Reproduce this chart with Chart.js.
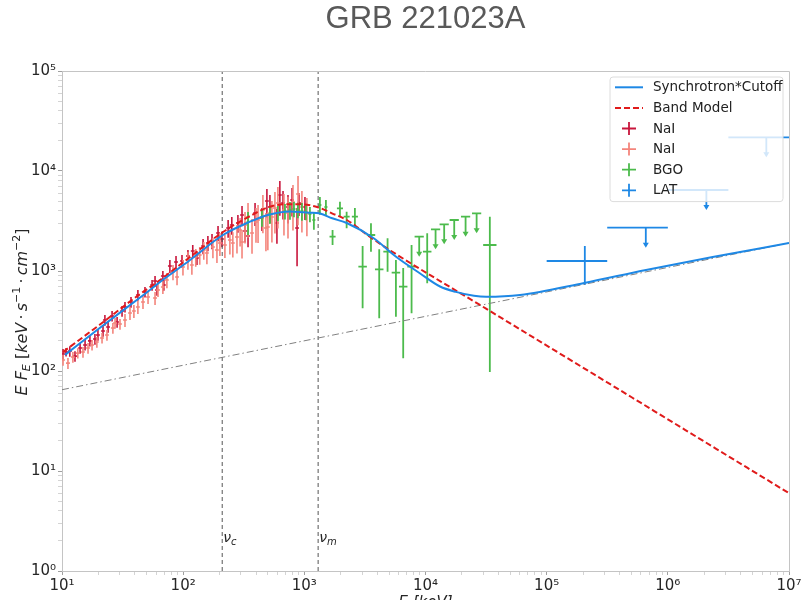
<!DOCTYPE html>
<html>
<head>
<meta charset="utf-8">
<title>GRB 221023A</title>
<script src="https://cdn.jsdelivr.net/npm/chart.js@4.4.1/dist/chart.umd.min.js"></script>
<style>
    html, body { margin: 0; padding: 0; background: #fff; overflow: hidden; }
    #sed { display: block; }
</style>
</head>
<body>
<canvas id="sed" width="809" height="612"></canvas>
<script>
// Energy in keV, E*F_E in keV s^-1 cm^-2

// GBM NaI, first detector
const nai1E = [10.2, 10.8, 11.6, 12.8, 14.1, 15.5, 17.0, 18.7, 19.8, 21.8,
    22.6, 24.0, 25.9, 28.5, 31.3, 33.1, 37.1, 42.3, 48.4, 55.4,
    58.6, 60.8, 68.0, 69.3, 77.7, 87.3, 97.8, 109.5, 120, 130,
    146, 160, 173, 194, 209, 235, 252, 283, 306, 324,
    343, 392, 447, 491, 520, 594, 628, 667, 733, 792,
    871, 903, 1012];
const nai1Flux = [148, 155, 158, 141, 170, 182, 200, 209, 229, 251,
    324, 275, 355, 309, 398, 437, 490, 575, 617, 724,
    794, 646, 891, 724, 1122, 1230, 1259, 1413, 1585, 1349,
    1778, 1905, 1995, 2399, 2089, 2692, 2884, 3020, 3631, 2512,
    2239, 3802, 3388, 5012, 4365, 3020, 5754, 4786, 4365, 5129,
    2692, 4786, 4365];
const nai1Err = [18, 15, 19, 17, 21, 22, 24, 26, 28, 31,
    40, 34, 43, 38, 49, 53, 60, 70, 75, 88,
    97, 79, 109, 88, 166, 182, 186, 209, 235, 200,
    311, 333, 349, 420, 366, 544, 583, 610, 835, 578,
    515, 985, 877, 1594, 1388, 1148, 2187, 1522, 1388, 1631,
    1575, 1240, 1131];

// GBM NaI, second detector
const nai2E = [10.2, 11.2, 12.3, 13.5, 14.9, 16.4, 17.7, 19.4, 21.4, 23.5,
    26.3, 27.4, 30.1, 33.1, 36.4, 39.2, 42.3, 46.6, 51.3, 58.6,
    62.0, 68.0, 73.4, 82.4, 89.0, 99.6, 109.5, 118, 127, 137,
    148, 157, 176, 190, 201, 221, 243, 257, 278, 295,
    306, 324, 343, 370, 399, 415, 455, 482, 500, 540,
    572, 605, 679, 733, 806, 887, 955, 1050];
const nai2Flux = [129, 120, 138, 151, 155, 170, 182, 195, 214, 229,
    269, 302, 295, 324, 380, 398, 437, 490, 550, 537,
    646, 692, 813, 977, 871, 1096, 1288, 1148, 1380, 1445,
    1622, 1514, 1738, 1622, 1905, 1820, 2042, 1905, 2188, 2570,
    1950, 2884, 3467, 2399, 3090, 3236, 4074, 2692, 2754, 3467,
    4266, 4786, 4074, 3802, 4898, 5888, 4365, 3802];
const nai2Err = [16, 15, 17, 18, 19, 21, 22, 24, 26, 28,
    33, 37, 36, 48, 56, 59, 65, 73, 81, 79,
    96, 102, 142, 171, 152, 192, 260, 232, 279, 292,
    328, 348, 400, 420, 493, 471, 576, 537, 696, 817,
    620, 998, 1317, 912, 1174, 1336, 1683, 1112, 1137, 1543,
    1898, 2130, 1813, 1692, 2353, 3027, 1942, 1570];
const naiBinDex = 0.016;

// GBM BGO
const bgoE = [343, 447, 520, 605, 692, 761, 821, 885, 955, 1030,
    1112, 1199, 1344, 1507, 1710, 1968, 2234, 2614, 3027, 3548,
    4150, 4864, 5700, 6546, 7674, 10330, 33960];
const bgoFlux = [3090, 3467, 3715, 3802, 3981, 4074, 4169, 4074, 3981, 3890,
    3715, 3236, 4571, 4365, 2203, 4236, 3491, 3491, 1104, 2291,
    1040, 1560, 962, 697, 1104, 1560, 1820];
const bgoLow = [2290, 2770, 2965, 3140, 3280, 3250, 3440, 3360, 3180, 3210,
    3065, 2590, 3650, 3605, 1820, 3491, 2673, 2692, 424, 1560,
    337, 984, 349, 134, 378, 753, 98];
const bgoHigh = [3890, 4170, 4465, 4470, 4680, 4890, 4900, 4780, 4780, 4570,
    4365, 3890, 5490, 5125, 2570, 4932, 3917, 4266, 1778, 2999,
    1648, 2123, 1288, 1072, 1820, 2382, 3491];
const bgoBinDex = [0.012, 0.012, 0.012, 0.012, 0.012, 0.012, 0.012, 0.012, 0.012, 0.012,
    0.012, 0.012, 0.012, 0.012, 0.025, 0.025, 0.025, 0.025, 0.035, 0.035,
    0.035, 0.035, 0.035, 0.035, 0.035, 0.035, 0.055];
const bgoUlE = [8872, 12110, 14260, 17260, 21420, 26420];
const bgoUlFlux = [2203, 2612, 2931, 3236, 3491, 3776];
const bgoUlBinDex = 0.038;

// LAT
const latE = [206500];
const latFlux = [1259];
const latLow = [724];
const latHigh = [1778];
const latEMin = [1e5];
const latEMax = [3.16e5];
const latUlE = [658000, 2080000, 6500000];
const latUlFlux = [2710, 6457, 21700];
const latUlEMin = [316000, 1000000, 3160000];
const latUlEMax = [1000000, 3160000, 10000000];

// fitted models
const synchE = [10.6, 20.6, 44.1, 70.8, 114, 213, 356, 501, 759, 1096,
    1349, 1698, 2239, 3715, 5754, 8913, 13180, 17800, 25100, 31620,
    60260, 204200, 660700, 2344000, 1e7];
const synchFlux = [145, 271, 543, 845, 1288, 2291, 3112, 3631, 3936, 3828,
    3758, 3365, 3020, 2138, 1380, 955, 700, 618, 565, 552,
    575, 759, 1023, 1380, 1905];
const bandE = [10.2, 20.6, 44.1, 61.9, 114, 213, 370, 501, 692, 955,
    1294, 1690, 2239, 3467, 4786, 31620, 316200, 1e7];
const bandFlux = [155, 292, 589, 782, 1380, 2455, 3631, 4335, 4645, 4645,
    4335, 3776, 3236, 2203, 1690, 420, 76.9, 6.0];
const powerLawE = [10, 1e7];
const powerLawFlux = [65, 1905];

// characteristic synchrotron frequencies (keV)
const breakNames = ['c', 'm'];
const breakE = [210, 1300];

const BLUE = '#1e88e5';
const RED = '#e01b1b';
const NAI_DARK = '#c8163c';
const NAI_LIGHT = '#f4857c';
const GREEN = '#4cbb4c';
const MATH_FONT = "'DejaVu Sans', sans-serif";

const ARROW_LEN = 20;

function curve(E, F) {
    return E.map((e, i) => ({ x: e, y: F[i] }));
}

function symmetricPoints(E, F, err, dex) {
    const k = Math.pow(10, dex);
    return E.map((e, i) => ({
        x: e, y: F[i], xMin: e / k, xMax: e * k,
        yMin: F[i] - err[i], yMax: F[i] + err[i]
    }));
}

function boundedPoints(E, F, low, high, dex) {
    return E.map((e, i) => {
        const k = Math.pow(10, dex[i]);
        return { x: e, y: F[i], xMin: e / k, xMax: e * k, yMin: low[i], yMax: high[i] };
    });
}

function upperLimits(E, F, eMin, eMax) {
    return E.map((e, i) => ({ x: e, y: F[i], xMin: eMin[i], xMax: eMax[i], upper: true }));
}

const bgoPoints = boundedPoints(bgoE, bgoFlux, bgoLow, bgoHigh, bgoBinDex).concat(
    upperLimits(bgoUlE, bgoUlFlux,
        bgoUlE.map(e => e / Math.pow(10, bgoUlBinDex)),
        bgoUlE.map(e => e * Math.pow(10, bgoUlBinDex))));

const latPoints = latE.map((e, i) => ({
    x: e, y: latFlux[i], xMin: latEMin[i], xMax: latEMax[i], yMin: latLow[i], yMax: latHigh[i]
})).concat(upperLimits(latUlE, latUlFlux, latUlEMin, latUlEMax));

const datasets = [
    {
        label: 'Synchrotron*Cutoff', data: curve(synchE, synchFlux), showLine: true,
        borderColor: BLUE, borderWidth: 2, pointRadius: 0,
        cubicInterpolationMode: 'monotone', order: 0, legendStyle: 'line'
    },
    {
        label: 'Band Model', data: curve(bandE, bandFlux), showLine: true,
        borderColor: RED, borderWidth: 2, borderDash: [6, 3], pointRadius: 0,
        cubicInterpolationMode: 'monotone', order: 1, legendStyle: 'line'
    },
    { label: 'NaI', data: symmetricPoints(nai1E, nai1Flux, nai1Err, naiBinDex), borderColor: NAI_DARK,
      pointRadius: 0, errorBars: true, barWidth: 1.6, legendStyle: 'cross', order: 5 },
    { label: 'NaI', data: symmetricPoints(nai2E, nai2Flux, nai2Err, naiBinDex), borderColor: NAI_LIGHT,
      pointRadius: 0, errorBars: true, barWidth: 1.6, legendStyle: 'cross', order: 5 },
    { label: 'BGO', data: bgoPoints, borderColor: GREEN,
      pointRadius: 0, errorBars: true, barWidth: 1.8, legendStyle: 'cross', order: 5 },
    { label: 'LAT', data: latPoints, borderColor: BLUE,
      pointRadius: 0, errorBars: true, barWidth: 1.8, legendStyle: 'cross', order: 5 },
    {
        label: 'power law', data: curve(powerLawE, powerLawFlux), showLine: true,
        borderColor: '#808080', borderWidth: 1, borderDash: [7, 3, 1.5, 3], pointRadius: 0, order: 2
    }
];

breakE.forEach((e, i) => {
    datasets.push({
        label: 'nu_' + breakNames[i], data: [{ x: e, y: 1 }, { x: e, y: 1e5 }], showLine: true,
        borderColor: '#555555', borderWidth: 1, borderDash: [4, 3], pointRadius: 0, order: 3
    });
});

// one tick per 1..9 x 10^n, labels on the decades only
function decadeTicks(scale) {
    const ticks = [];
    const lo = Math.round(Math.log10(scale.min));
    const hi = Math.round(Math.log10(scale.max));
    for (let p = lo; p <= hi; p++) {
        for (let m = 1; m < 10; m++) {
            const v = m * Math.pow(10, p);
            if (v >= scale.min * 0.999 && v <= scale.max * 1.001) {
                ticks.push({ value: v, major: m === 1 });
            }
        }
    }
    scale.ticks = ticks;
}

const SUP = { '0': '\u2070', '1': '\u00b9', '2': '\u00b2', '3': '\u00b3', '4': '\u2074',
    '5': '\u2075', '6': '\u2076', '7': '\u2077', '8': '\u2078', '9': '\u2079', '-': '\u207b' };

function decadeLabel(value, index, ticks) {
    if (!ticks[index].major) return '';
    const p = Math.round(Math.log10(value));
    return '10' + String(p).split('').map(c => SUP[c]).join('');
}

function axisStyle() {
    return {
        type: 'logarithmic',
        afterBuildTicks: decadeTicks,
        border: { display: true, color: '#c4c4c4', width: 1 },
        grid: {
            drawOnChartArea: false, drawTicks: true, tickLength: 4,
            tickColor: ctx => (ctx.tick && ctx.tick.major) ? '#a0a0a0' : '#d4d4d4'
        },
        ticks: {
            autoSkip: false, maxRotation: 0, padding: 2, color: '#262626',
            font: { family: MATH_FONT, size: 15 },
            callback: decadeLabel
        }
    };
}

const xAxis = Object.assign(axisStyle(), {
    position: 'bottom', min: 10, max: 1e7,
    afterFit: s => { s.height = 41; },
    title: {
        display: true, text: 'E [keV]', color: '#262626',
        font: { family: MATH_FONT, size: 15, style: 'italic' },
        padding: { top: 0, bottom: 0 }
    }
});
const yAxis = Object.assign(axisStyle(), {
    position: 'left', min: 1, max: 1e5,
    afterFit: s => { s.width = 62; }
});

// crosses and upper-limit arrows for the detector data
const errorBarPlugin = {
    id: 'errorBars',
    beforeDatasetsDraw(chart) {
        const { ctx, chartArea, scales: { x, y } } = chart;
        ctx.save();
        ctx.beginPath();
        ctx.rect(chartArea.left, chartArea.top, chartArea.width, chartArea.height);
        ctx.clip();
        chart.data.datasets.forEach(ds => {
            if (!ds.errorBars) return;
            ctx.strokeStyle = ds.borderColor;
            ctx.fillStyle = ds.borderColor;
            ctx.lineWidth = ds.barWidth;
            ds.data.forEach(p => {
                const px = x.getPixelForValue(p.x);
                const py = y.getPixelForValue(p.y);
                ctx.beginPath();
                ctx.moveTo(x.getPixelForValue(p.xMin), py);
                ctx.lineTo(x.getPixelForValue(p.xMax), py);
                if (p.upper) {
                    ctx.moveTo(px, py);
                    ctx.lineTo(px, py + ARROW_LEN - 2);
                } else {
                    ctx.moveTo(px, y.getPixelForValue(p.yMax));
                    ctx.lineTo(px, y.getPixelForValue(Math.max(p.yMin, 0.01)));
                }
                ctx.stroke();
                if (p.upper) {
                    ctx.beginPath();
                    ctx.moveTo(px - 3, py + ARROW_LEN - 5);
                    ctx.lineTo(px + 3, py + ARROW_LEN - 5);
                    ctx.lineTo(px, py + ARROW_LEN);
                    ctx.closePath();
                    ctx.fill();
                }
            });
        });
        ctx.restore();
    }
};

// text made of italic, subscript and superscript pieces, centred on (0,0)
function drawMath(ctx, parts, size) {
    const small = Math.round(size * 0.7);
    let total = 0;
    parts.forEach(p => {
        const s = p.sub || p.sup ? small : size;
        p.font = (p.it ? 'italic ' : '') + s + 'px ' + MATH_FONT;
        ctx.font = p.font;
        p.w = ctx.measureText(p.t).width;
        total += p.w;
    });
    let cx = -total / 2;
    parts.forEach(p => {
        ctx.font = p.font;
        const dy = p.sub ? size * 0.25 : p.sup ? -size * 0.38 : 0;
        ctx.fillText(p.t, cx, dy);
        cx += p.w;
    });
}

const overlayPlugin = {
    id: 'overlay',
    afterDatasetsDraw(chart) {
        const { ctx, chartArea } = chart;
        const { left, right, top, bottom } = chartArea;

        // top and right spines
        ctx.save();
        ctx.strokeStyle = '#c4c4c4';
        ctx.lineWidth = 1;
        ctx.beginPath();
        ctx.moveTo(left, top + 0.5);
        ctx.lineTo(right + 0.5, top + 0.5);
        ctx.lineTo(right + 0.5, bottom);
        ctx.stroke();

        // nu_c / nu_m labels beside the break lines
        ctx.fillStyle = '#262626';
        ctx.textBaseline = 'alphabetic';
        breakE.forEach((e, i) => {
            const px = chart.scales.x.getPixelForValue(e) + 1;
            const py = bottom - 29;
            ctx.font = 'italic 14px ' + MATH_FONT;
            ctx.fillText('\u03bd', px, py);
            const w = ctx.measureText('\u03bd').width;
            ctx.font = 'italic 10px ' + MATH_FONT;
            ctx.fillText(breakNames[i], px + w, py + 3);
        });

        // legend with translucent frame
        const items = chart.data.datasets.filter(d => d.legendStyle);
        const bx = right - 179, by = top + 6, bw = 173, rowH = 20.6;
        const bh = items.length * rowH + 1;
        ctx.beginPath();
        if (ctx.roundRect) ctx.roundRect(bx, by, bw, bh, 3);
        else ctx.rect(bx, by, bw, bh);
        ctx.fillStyle = 'rgba(255,255,255,0.8)';
        ctx.fill();
        ctx.strokeStyle = '#dcdcdc';
        ctx.stroke();

        ctx.textBaseline = 'middle';
        items.forEach((d, i) => {
            const cy = by + 10.3 + i * rowH;
            ctx.strokeStyle = d.borderColor;
            ctx.setLineDash(d.borderDash || []);
            ctx.beginPath();
            if (d.legendStyle === 'line') {
                ctx.lineWidth = 2;
                ctx.moveTo(bx + 5, cy);
                ctx.lineTo(bx + 33, cy);
            } else {
                ctx.lineWidth = 1.8;
                ctx.moveTo(bx + 12, cy);
                ctx.lineTo(bx + 26, cy);
                ctx.moveTo(bx + 19, cy - 6.5);
                ctx.lineTo(bx + 19, cy + 6.5);
            }
            ctx.stroke();
            ctx.setLineDash([]);
            ctx.fillStyle = '#222';
            ctx.font = '13.5px ' + MATH_FONT;
            ctx.fillText(d.label, bx + 43, cy + 0.5);
        });

        // y axis title
        ctx.translate(23, (top + bottom) / 2 - 9);
        ctx.rotate(-Math.PI / 2);
        ctx.textBaseline = 'middle';
        ctx.fillStyle = '#262626';
        drawMath(ctx, [
            { t: 'E', it: true }, { t: ' ' }, { t: 'F', it: true }, { t: 'E', it: true, sub: true },
            { t: ' [' }, { t: 'keV', it: true }, { t: '\u2009\u00b7\u2009' }, { t: 's', it: true }, { t: '\u22121', sup: true },
            { t: '\u2009\u00b7\u2009' }, { t: 'cm', it: true }, { t: '\u22122', sup: true }, { t: ']' }
        ], 16);
        ctx.restore();
    }
};

new Chart(document.getElementById('sed'), {
    type: 'scatter',
    data: { datasets: datasets },
    options: {
        responsive: false,
        animation: false,
        events: [],
        layout: { padding: { left: 0, right: 20, top: 0, bottom: 0 } },
        plugins: {
            legend: { display: false },
            tooltip: { enabled: false },
            title: {
                display: true, text: 'GRB 221023A', color: '#595959', fullSize: false,
                font: { family: "'Liberation Sans', Arial, sans-serif", size: 31, weight: 'normal', lineHeight: 1.2 },
                padding: { top: 1, bottom: 32.8 }
            }
        },
        scales: { x: xAxis, y: yAxis }
    },
    plugins: [errorBarPlugin, overlayPlugin]
});
</script>
</body>
</html>
